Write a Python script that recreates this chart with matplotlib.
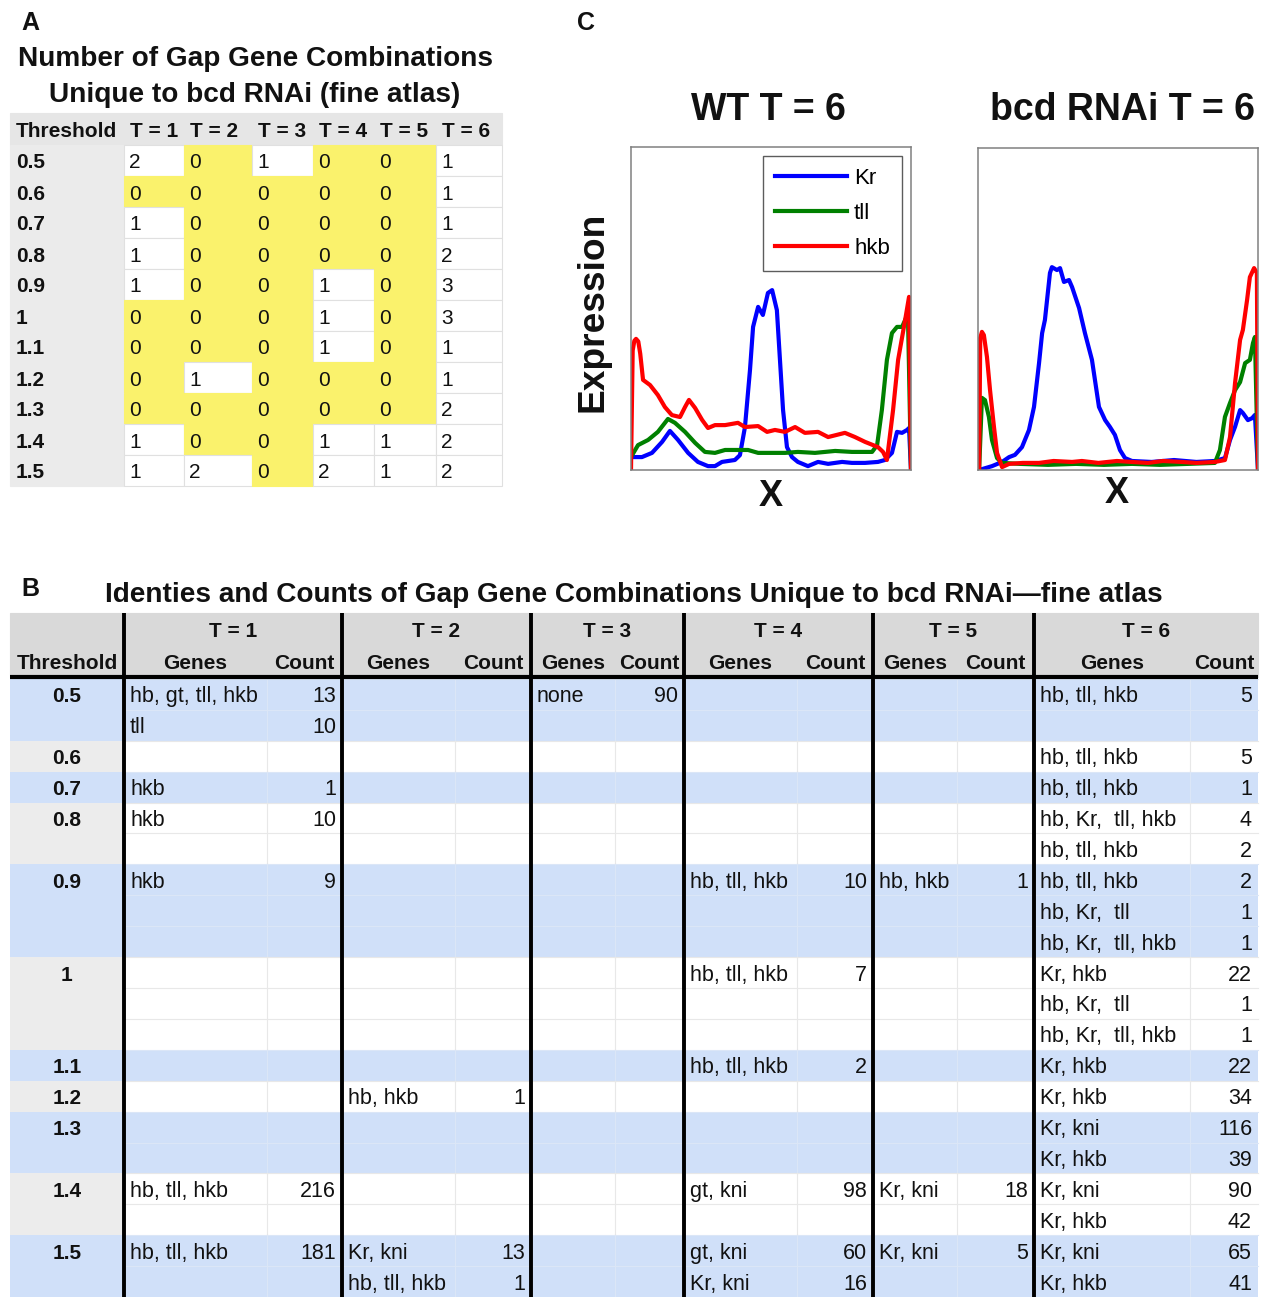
import matplotlib
matplotlib.use('Agg')
import matplotlib.pyplot as plt
from matplotlib.patches import Rectangle

plt.rcParams['font.family'] = ['Liberation Sans', 'DejaVu Sans']

# ---------------- Panel A: number of combinations ----------------
a_thresholds = ['0.5', '0.6', '0.7', '0.8', '0.9', '1', '1.1', '1.2', '1.3', '1.4', '1.5']
a_columns = ['T = 1', 'T = 2', 'T = 3', 'T = 4', 'T = 5', 'T = 6']
a_counts = [
    [2, 0, 1, 0, 0, 1],
    [0, 0, 0, 0, 0, 1],
    [1, 0, 0, 0, 0, 1],
    [1, 0, 0, 0, 0, 2],
    [1, 0, 0, 1, 0, 3],
    [0, 0, 0, 1, 0, 3],
    [0, 0, 0, 1, 0, 1],
    [0, 1, 0, 0, 0, 1],
    [0, 0, 0, 0, 0, 2],
    [1, 0, 0, 1, 1, 2],
    [1, 2, 0, 2, 1, 2],
]

# ---------------- Panel B: identities and counts ----------------
b_thresholds = a_thresholds
b_times = ['T = 1', 'T = 2', 'T = 3', 'T = 4', 'T = 5', 'T = 6']
b_t1 = [('0.5', 'hb, gt, tll, hkb', 13), ('0.5', 'tll', 10), ('0.7', 'hkb', 1),
        ('0.8', 'hkb', 10), ('0.9', 'hkb', 9), ('1.4', 'hb, tll, hkb', 216),
        ('1.5', 'hb, tll, hkb', 181)]
b_t2 = [('1.2', 'hb, hkb', 1), ('1.5', 'Kr, kni', 13), ('1.5', 'hb, tll, hkb', 1)]
b_t3 = [('0.5', 'none', 90)]
b_t4 = [('0.9', 'hb, tll, hkb', 10), ('1', 'hb, tll, hkb', 7), ('1.1', 'hb, tll, hkb', 2),
        ('1.4', 'gt, kni', 98), ('1.5', 'gt, kni', 60), ('1.5', 'Kr, kni', 16)]
b_t5 = [('0.9', 'hb, hkb', 1), ('1.4', 'Kr, kni', 18), ('1.5', 'Kr, kni', 5)]
b_t6 = [('0.5', 'hb, tll, hkb', 5), ('0.6', 'hb, tll, hkb', 5), ('0.7', 'hb, tll, hkb', 1),
        ('0.8', 'hb, Kr,  tll, hkb', 4), ('0.8', 'hb, tll, hkb', 2),
        ('0.9', 'hb, tll, hkb', 2), ('0.9', 'hb, Kr,  tll', 1), ('0.9', 'hb, Kr,  tll, hkb', 1),
        ('1', 'Kr, hkb', 22), ('1', 'hb, Kr,  tll', 1), ('1', 'hb, Kr,  tll, hkb', 1),
        ('1.1', 'Kr, hkb', 22), ('1.2', 'Kr, hkb', 34),
        ('1.3', 'Kr, kni', 116), ('1.3', 'Kr, hkb', 39),
        ('1.4', 'Kr, kni', 90), ('1.4', 'Kr, hkb', 42),
        ('1.5', 'Kr, kni', 65), ('1.5', 'Kr, hkb', 41)]
b_entries = [b_t1, b_t2, b_t3, b_t4, b_t5, b_t6]

# ---------------- Panel C: expression profiles (x = % position, y = expression) ----------------
wt_kr_x = [0, 3.9, 7.5, 11.1, 13.9, 16.8, 20.4, 23.9, 27.5, 30.0, 32.5, 37.1, 38.9, 40.7, 42.5,
           43.6, 45.4, 47.1, 48.9, 50.4, 52.1, 53.2, 54.3, 55.7, 57.5, 59.6, 63.2, 66.8, 70.4,
           75.4, 78.9, 83.6, 88.2, 90.7, 93.2, 95.0, 96.8, 98.6, 99.3, 100]
wt_kr_y = [0.04, 0.04, 0.053, 0.087, 0.121, 0.093, 0.053, 0.025, 0.012, 0.012, 0.025, 0.031,
           0.046, 0.133, 0.31, 0.443, 0.505, 0.48, 0.548, 0.557, 0.495, 0.341, 0.186, 0.071,
           0.04, 0.025, 0.012, 0.025, 0.019, 0.025, 0.022, 0.022, 0.025, 0.031, 0.053, 0.118,
           0.115, 0.124, 0.13, 0.0]
wt_tll_x = [0, 2.5, 6.1, 9.6, 13.2, 15.7, 19.3, 22.9, 26.4, 30.0, 33.6, 37.1, 41.8, 45.4, 49.6,
            55.0, 59.6, 65.7, 72.9, 78.9, 86.1, 87.9, 89.6, 91.4, 93.2, 95.0, 96.8, 97.9, 98.9, 100]
wt_tll_y = [0.04, 0.077, 0.093, 0.118, 0.158, 0.146, 0.118, 0.084, 0.056, 0.053, 0.062, 0.062,
            0.062, 0.053, 0.053, 0.053, 0.056, 0.053, 0.059, 0.056, 0.056, 0.077, 0.186, 0.341,
            0.424, 0.443, 0.443, 0.464, 0.486, 0.0]
wt_hkb_x = [0, 0.6, 1.2, 1.8, 2.6, 3.3, 4.3, 6.8, 9.6, 12.1, 14.6, 17.5, 19.3, 20.7, 22.9, 25.4,
            27.5, 30.0, 33.6, 38.2, 40.7, 45.4, 48.6, 51.4, 55.0, 58.6, 62.1, 66.8, 70.4, 76.4,
            80.0, 83.6, 88.2, 90.0, 91.4, 93.6, 95.4, 97.9, 99.3, 100]
wt_hkb_y = [0.0, 0.37, 0.4, 0.406, 0.398, 0.36, 0.279, 0.263, 0.232, 0.195, 0.17, 0.164, 0.195,
            0.217, 0.192, 0.155, 0.13, 0.139, 0.139, 0.146, 0.133, 0.136, 0.118, 0.124, 0.118,
            0.133, 0.115, 0.118, 0.102, 0.115, 0.102, 0.087, 0.071, 0.056, 0.031, 0.186, 0.341,
            0.464, 0.536, 0.0]

rnai_kr_x = [0.4, 5.0, 8.6, 11.1, 13.2, 15.7, 18.2, 20.0, 21.8, 22.9, 23.9, 25.7, 26.4, 28.2,
             29.3, 30.7, 32.5, 33.6, 36.1, 38.2, 40.7, 43.2, 45.4, 47.1, 48.9, 50.7, 52.5, 55.0,
             62.0, 70.0, 78.0, 84.6, 88.2, 90.0, 91.8, 93.6, 94.6, 96.4, 97.9, 98.9, 100]
rnai_kr_y = [0.0, 0.012, 0.025, 0.04, 0.047, 0.071, 0.124, 0.196, 0.332, 0.425, 0.466, 0.612,
             0.63, 0.621, 0.627, 0.584, 0.59, 0.568, 0.503, 0.425, 0.342, 0.196, 0.155, 0.134,
             0.109, 0.062, 0.037, 0.028, 0.025, 0.031, 0.025, 0.028, 0.037, 0.093, 0.134, 0.186,
             0.177, 0.155, 0.161, 0.171, 0.0]
rnai_tll_x = [0.4, 1.4, 2.5, 3.9, 5.0, 6.8, 8.6, 15.0, 25.0, 35.0, 45.0, 55.0, 65.0, 75.0,
              84.6, 86.4, 88.2, 90.0, 91.8, 93.6, 95.4, 97.1, 98.2, 98.9, 100]
rnai_tll_y = [0.0, 0.224, 0.217, 0.165, 0.093, 0.037, 0.022, 0.019, 0.016, 0.019, 0.016, 0.019,
              0.016, 0.019, 0.022, 0.062, 0.165, 0.208, 0.248, 0.273, 0.332, 0.342, 0.394,
              0.413, 0.0]
rnai_hkb_x = [0.4, 0.8, 1.4, 2.1, 3.2, 4.3, 5.7, 6.8, 8.6, 11.1, 16.0, 21.8, 27.0, 33.6, 37.1,
              43.0, 49.6, 55.0, 60.7, 66.0, 72.9, 78.0, 84.6, 88.2, 90.0, 91.8, 93.6, 94.6, 96.1,
              97.1, 98.6, 99.6, 100]
rnai_hkb_y = [0.0, 0.41, 0.429, 0.419, 0.351, 0.248, 0.134, 0.053, 0.009, 0.019, 0.022, 0.022,
              0.028, 0.025, 0.028, 0.022, 0.028, 0.025, 0.022, 0.028, 0.025, 0.022, 0.025,
              0.031, 0.102, 0.27, 0.404, 0.435, 0.528, 0.599, 0.627, 0.612, 0.0]

BLUE_ROW = '#d0e0f9'
YELLOW = '#faf26c'

W, H = 1268, 1297
fig = plt.figure(figsize=(W / 100, H / 100), dpi=100)
fig.patch.set_facecolor('white')
canvas = fig.add_axes([0, 0, 1, 1])
canvas.set_xlim(0, W)
canvas.set_ylim(H, 0)
canvas.axis('off')


def txt(x, y, s, size=15, weight='normal', ha='left', va='center', dy=2.5, **kw):
    canvas.text(x, y + dy, s, fontsize=size, fontweight=weight, ha=ha, va=va,
                color='#111111', **kw)


def cell(x0, x1, y0, y1, face, edge='#dcdcdc', lw=0.8, z=1):
    canvas.add_patch(Rectangle((x0, y0), x1 - x0, y1 - y0, facecolor=face,
                               edgecolor=edge, linewidth=lw, zorder=z))


# ---- Panel A ----
txt(21, 21, 'A', size=18, weight='bold')
txt(255, 57, 'Number of Gap Gene Combinations', size=20.2, weight='bold', ha='center')
txt(255, 92, 'Unique to bcd RNAi (fine atlas)', size=20.2, weight='bold', ha='center')

a_edges = [10, 124, 184, 252, 313, 374, 436, 502]
a_top, a_head, a_row = 113, 32, 31
cell(a_edges[0], a_edges[-1], a_top, a_top + a_head, '#e6e6e6', edge='#e6e6e6')
txt(a_edges[0] + 6, a_top + a_head / 2, 'Threshold', weight='bold')
for j, name in enumerate(a_columns):
    txt(a_edges[j + 1] + 6, a_top + a_head / 2, name, weight='bold')
for i, thr in enumerate(a_thresholds):
    y0 = a_top + a_head + i * a_row
    cell(a_edges[0], a_edges[1], y0, y0 + a_row, '#ebebeb', edge='#ebebeb')
    txt(a_edges[0] + 6, y0 + a_row / 2, thr, weight='bold')
    for j, v in enumerate(a_counts[i]):
        face = YELLOW if v == 0 else 'white'
        edge = YELLOW if v == 0 else '#e0e0e0'
        cell(a_edges[j + 1], a_edges[j + 2], y0, y0 + a_row, face, edge=edge)
        txt(a_edges[j + 1] + 5, y0 + a_row / 2, str(v))

# ---- Panel B ----
txt(21, 586, 'B', size=18, weight='bold')
txt(634, 592, 'Identies and Counts of Gap Gene Combinations Unique to bcd RNAi\u2014fine atlas',
    size=20.2, weight='bold', ha='center')

t_edges = [124, 342, 531, 684, 873, 1034, 1258]
t_split = [267, 455, 615, 797, 957, 1190]
b_left, b_head_top, b_head_bot = 10, 613, 677

# number of sub-rows per threshold comes from the largest entry list
n_sub = []
for thr in b_thresholds:
    n_sub.append(max(1, max(sum(1 for e in lst if e[0] == thr) for lst in b_entries)))
b_row = (H - (b_head_bot + 2)) / sum(n_sub)

cell(b_left, t_edges[-1], b_head_top, b_head_bot, '#d9d9d9', edge='#d9d9d9')
txt(67, 661, 'Threshold', weight='bold', ha='center')
for k, name in enumerate(b_times):
    x0, xs, x1 = t_edges[k], t_split[k], t_edges[k + 1]
    txt((x0 + x1) / 2, 629, name, weight='bold', ha='center')
    txt((x0 + xs) / 2, 661, 'Genes', weight='bold', ha='center')
    txt((xs + x1) / 2, 661, 'Count', weight='bold', ha='center')

row_start = {}
y = b_head_bot + 2
for gi, thr in enumerate(b_thresholds):
    row_start[thr] = y
    blue = gi % 2 == 0
    h = n_sub[gi] * b_row
    cell(b_left, t_edges[0], y, y + h, BLUE_ROW if blue else '#ececec', edge='none')
    cell(t_edges[0], t_edges[-1], y, y + h, BLUE_ROW if blue else 'white', edge='none')
    line_col = '#dbe6f7' if blue else '#e8e8e8'
    for s in range(n_sub[gi]):
        yy = y + s * b_row
        canvas.plot([t_edges[0], t_edges[-1]], [yy, yy], color=line_col, lw=0.8, zorder=2)
    for xs in t_split:
        canvas.plot([xs, xs], [y, y + h], color=line_col, lw=0.8, zorder=2)
    txt(67, y + b_row / 2, thr, weight='bold', ha='center')
    y += h

for k, lst in enumerate(b_entries):
    used = {}
    for thr, genes, cnt in lst:
        s = used.get(thr, 0)
        used[thr] = s + 1
        yc = row_start[thr] + (s + 0.5) * b_row
        txt(t_edges[k] + 6, yc, genes, size=15.5)
        txt(t_edges[k + 1] - 6, yc, str(cnt), size=15.5, ha='right')

canvas.plot([b_left, t_edges[-1]], [b_head_bot, b_head_bot], color='black', lw=3, zorder=5,
            solid_capstyle='butt')
for xe in t_edges[:-1]:
    canvas.plot([xe, xe], [b_head_top, H], color='black', lw=2.8, zorder=5,
                solid_capstyle='butt')

# ---- Panel C ----
txt(577, 21, 'C', size=18, weight='bold')


def profile_axes(px0, py0, px1, py1):
    ax = fig.add_axes([px0 / W, 1 - py1 / H, (px1 - px0) / W, (py1 - py0) / H])
    ax.set_xlim(0, 100)
    ax.set_ylim(0, 1)
    ax.set_xticks([])
    ax.set_yticks([])
    for sp in ax.spines.values():
        sp.set_color('#808080')
        sp.set_linewidth(1.1)
    return ax


ax_wt = profile_axes(631, 147, 911, 470)
ax_wt.plot(wt_kr_x, wt_kr_y, color='#0000ff', lw=3, label='Kr')
ax_wt.plot(wt_tll_x, wt_tll_y, color='#008000', lw=3, label='tll')
ax_wt.plot(wt_hkb_x, wt_hkb_y, color='#ff0000', lw=3, label='hkb')
leg = ax_wt.legend(loc='upper right', fontsize=16, frameon=True, fancybox=False,
                   handlelength=3.25, handletextpad=0.3, labelspacing=0.62,
                   borderpad=0.55, borderaxespad=0.4)
leg.get_frame().set_edgecolor('#333333')
leg.get_frame().set_linewidth(1.0)

ax_rn = profile_axes(978, 148, 1258, 470)
ax_rn.plot(rnai_kr_x, rnai_kr_y, color='#0000ff', lw=3)
ax_rn.plot(rnai_tll_x, rnai_tll_y, color='#008000', lw=3)
ax_rn.plot(rnai_hkb_x, rnai_hkb_y, color='#ff0000', lw=3)

txt(768, 108, 'WT T = 6', size=27, weight='bold', ha='center')
txt(1123, 108, 'bcd RNAi T = 6', size=27, weight='bold', ha='center')
txt(593, 312, 'Expression', size=26.7, weight='bold', ha='center', rotation=90, dy=0)
txt(771, 494, 'X', size=26, weight='bold', ha='center')
txt(1117, 491, 'X', size=26, weight='bold', ha='center')

fig.savefig('out.png', dpi=100)
